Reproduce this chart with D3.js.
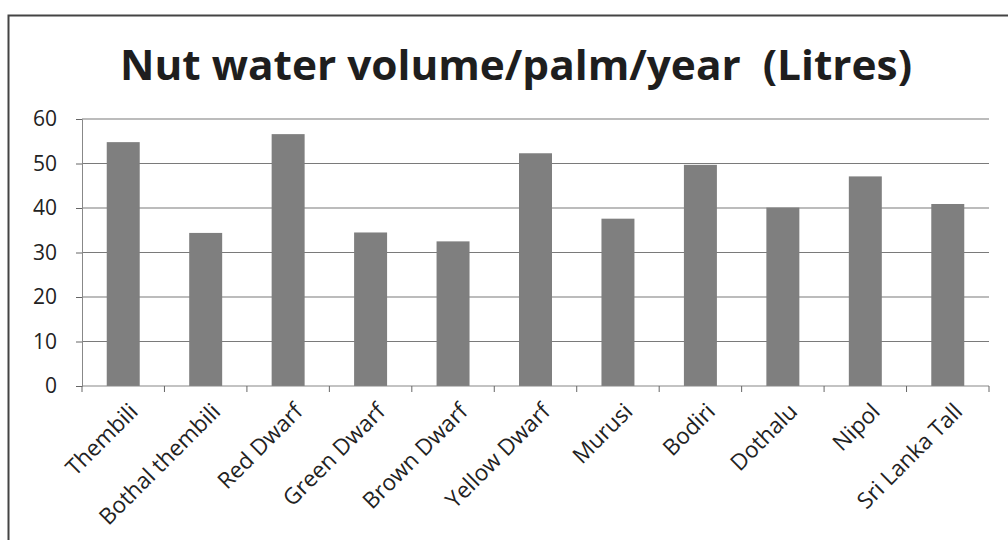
<!DOCTYPE html>
<html><head><meta charset="utf-8">
<script src="https://d3js.org/d3.v7.min.js"></script>
<style>body{margin:0;background:#fff}svg{display:block}</style>
</head><body>
<svg id="c" width="1008" height="540"></svg>
<script>
const categories = ["Thembili","Bothal thembili","Red Dwarf","Green Dwarf","Brown Dwarf","Yellow Dwarf","Murusi","Bodiri","Dothalu","Nipol","Sri Lanka Tall"];
const values = [54.8,34.4,56.6,34.5,32.5,52.3,37.6,49.7,40.1,47.1,40.9];
const yTicks = [0,10,20,30,40,50,60];
const title = "Nut water volume/palm/year  (Litres)";

const svg = d3.select("#c");
const m = {l:82, r:19, t:119, b:154};
const W = 1008, H = 540;
const x = d3.scaleBand().domain(categories).range([m.l, W-m.r]).paddingInner(0.6).paddingOuter(0.3);
const y = d3.scaleLinear().domain([0,60]).range([H-m.b, m.t]);
const font = "'Open Sans', 'Noto Sans', sans-serif";

// frame
svg.append("rect").attr("x",8.5).attr("y",15.5).attr("width",1020).attr("height",540)
  .attr("fill","none").attr("stroke","#444").attr("stroke-width",2);

// title
svg.append("text").attr("x",120).attr("y",80).attr("text-anchor","start")
  .attr("xml:space","preserve").style("white-space","pre")
  .attr("font-family",font).attr("font-weight","bold")
  .attr("font-size",42).attr("fill","#1e1e1e")
  .attr("textLength",792).attr("lengthAdjust","spacingAndGlyphs").text(title);

// gridlines
svg.append("g").selectAll("line").data(yTicks.filter(d=>d>0)).join("line")
  .attr("x1",m.l).attr("x2",W-m.r).attr("y1",d=>y(d)).attr("y2",d=>y(d))
  .attr("stroke","#7a7a7a").attr("stroke-width",1.2);

// y axis
const ya = svg.append("g").attr("transform",`translate(${m.l},0)`)
  .call(d3.axisLeft(y).tickValues(yTicks).tickSize(6).tickPadding(19));
ya.select(".domain").attr("stroke","#888");
ya.selectAll(".tick line").attr("stroke","#666");
ya.selectAll("text").attr("font-family",font).attr("font-size",21).attr("fill","#222");

// bars
svg.append("g").selectAll("rect").data(values).join("rect")
  .attr("x",(d,i)=>x(categories[i])).attr("width",x.bandwidth())
  .attr("y",d=>y(d)).attr("height",d=>y(0)-y(d)).attr("fill","#7f7f7f");

// x axis
const step = x.step();
const xa = svg.append("g").attr("transform",`translate(0,${y(0)})`);
xa.append("line").attr("x1",m.l).attr("x2",W-m.r).attr("stroke","#888").attr("stroke-width",1.2);
xa.selectAll("line.tk").data(d3.range(categories.length+1)).join("line").attr("class","tk")
  .attr("x1",i=>m.l+i*step).attr("x2",i=>m.l+i*step).attr("y1",0).attr("y2",6).attr("stroke","#666");
xa.selectAll("text").data(categories).join("text")
  .attr("transform",d=>`translate(${x(d)+x.bandwidth()/2+16},${27}) rotate(-45)`)
  .attr("text-anchor","end").attr("font-family",font)
  .attr("font-size",22.5).attr("fill","#222").text(d=>d);
</script>
</body></html>
